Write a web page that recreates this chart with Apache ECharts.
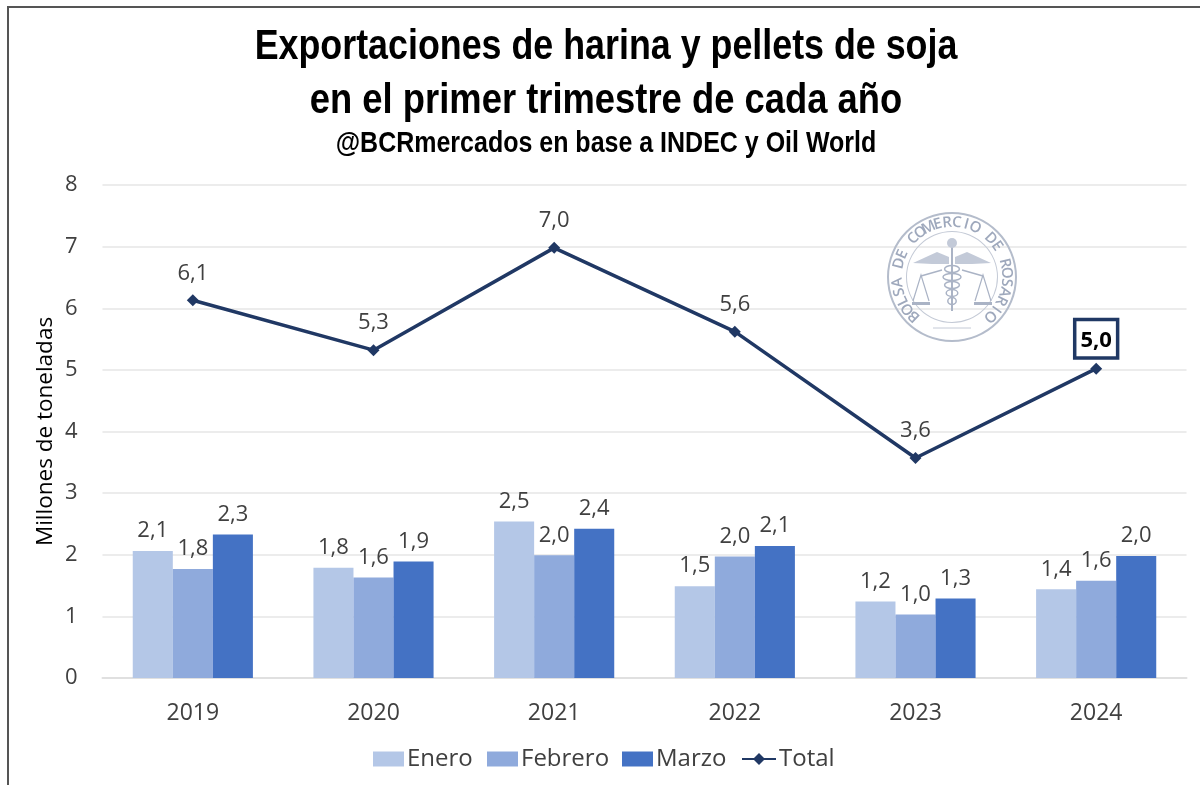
<!DOCTYPE html>
<html><head><meta charset="utf-8">
<style>html,body{margin:0;padding:0;background:#fff}#c{width:1200px;height:785px}</style>
<script src="https://cdn.jsdelivr.net/npm/echarts@6/dist/echarts.min.js"></script>
</head><body><div id="c"></div>
<script>
const categories=['2019','2020','2021','2022','2023','2024'];
const enero=[2.06,1.79,2.54,1.49,1.24,1.44];
const febrero=[1.77,1.63,1.99,1.97,1.03,1.58];
const marzo=[2.33,1.89,2.42,2.14,1.29,1.98];
const total=[6.13,5.32,6.98,5.62,3.57,5.02];
const sealText='BOLSA DE COMERCIO DE ROSARIO';
const titleLines=['Exportaciones de harina y pellets de soja','en el primer trimestre de cada año','@BCRmercados en base a INDEC y Oil World'];
const font='"Open Sans","Noto Sans",sans-serif';
const titleFont='"Liberation Sans",sans-serif';
const fmt=p=>p.value.toFixed(1).replace('.',',');
const barLabel={show:true,position:'top',distance:9,formatter:fmt,color:'#404040',fontSize:22,fontFamily:font};
const chart=echarts.init(document.getElementById('c'));
const seal=[];
const cx=952,cy=277;
seal.push({type:'rect',shape:{x:7,y:6,width:2,height:779},style:{fill:'#555'},z:1});
seal.push({type:'rect',shape:{x:7,y:6,width:1193,height:2},style:{fill:'#555'},z:1});
[[titleLines[0],47.5,43,0.833],[titleLines[1],101.5,43,0.846],[titleLines[2],144,30,0.833]].forEach(([t,y,s,k])=>{
  seal.push({type:'text',x:606,y,scaleX:k,z:5,style:{text:t,fill:'#000',fontFamily:titleFont,fontWeight:'bold',fontSize:s,align:'center',verticalAlign:'middle'}});
});
seal.push({type:'ring',shape:{cx,cy,r:65,r0:63},style:{fill:'#b4bccb'},z:1});
seal.push({type:'ring',shape:{cx,cy,r:46,r0:45},style:{fill:'#c4cad6'},z:1});
[...sealText].forEach((ch,i)=>{
  const a=(-136+i*(272/(sealText.length-1)))*Math.PI/180;
  seal.push({type:'text',x:cx+54.5*Math.sin(a),y:cy-54.5*Math.cos(a),rotation:-a,z:1,
    style:{text:ch,fill:'#9ea8bc',fontSize:15,fontWeight:600,fontFamily:font,align:'center',verticalAlign:'middle'}});
});
const ink='#aab3c5';
seal.push({type:'polygon',shape:{points:[[cx-39,cy-14],[cx-15,cy-25],[cx-3,cy-20],[cx-3,cy-13],[cx-20,cy-13]]},style:{fill:'#c3cad8'},z:1});
seal.push({type:'polygon',shape:{points:[[cx+39,cy-14],[cx+15,cy-25],[cx+3,cy-20],[cx+3,cy-13],[cx+20,cy-13]]},style:{fill:'#c3cad8'},z:1});
seal.push({type:'line',shape:{x1:cx,y1:cy-34,x2:cx,y2:cy+34},style:{stroke:ink,lineWidth:2},z:1});
seal.push({type:'circle',shape:{cx,cy:cy-34,r:5},style:{fill:'#c3cad8'},z:1});
[-8,0,8,16,24].forEach(d=>seal.push({type:'ellipse',shape:{cx,cy:cy+d,rx:9-Math.abs(d)/5,ry:3.5},style:{fill:'none',stroke:ink,lineWidth:1.5},z:1}));
[-1,1].forEach(s=>{
  seal.push({type:'line',shape:{x1:cx+s*10,y1:cy-7,x2:cx+s*31,y2:cy-1},style:{stroke:ink,lineWidth:1.5},z:1});
  seal.push({type:'polyline',shape:{points:[[cx+s*23,cy+24],[cx+s*31,cy-2],[cx+s*39,cy+24]]},style:{fill:'none',stroke:ink,lineWidth:1.2},z:1});
  seal.push({type:'rect',shape:{x:cx+s*31-9,y:cy+25,width:18,height:3},style:{fill:ink},z:1});
});
seal.push({type:'line',shape:{x1:cx-19,y1:cy+51,x2:cx+19,y2:cy+51},style:{stroke:'#c4cad6',lineWidth:1},z:1});
const legendItem=(name,left,icon,width)=>({left,top:742,itemWidth:width,itemHeight:15,
  textStyle:{fontFamily:font,fontSize:24,color:'#404040',padding:[0,0,0,-2]},
  data:[icon?{name,icon}:{name}]});
chart.setOption({
  animation:false,backgroundColor:'#fff',
  legend:[legendItem('Enero',368,'rect',31),legendItem('Febrero',482,'rect',31),legendItem('Marzo',617,'rect',31),legendItem('Total',736,null,34)],
  grid:{left:102.5,right:13.5,top:185,bottom:107},
  xAxis:{type:'category',data:categories,axisTick:{show:false},
    axisLine:{lineStyle:{color:'#e0e0e0',width:2}},
    axisLabel:{color:'#404040',fontSize:23,fontFamily:font,margin:24}},
  yAxis:{type:'value',min:0,max:8,interval:1,name:'Millones de toneladas',nameLocation:'middle',nameGap:45,nameMoveOverlap:false,nameRotate:90,
    nameTextStyle:{color:'#000',fontSize:22.5,fontFamily:font},
    axisLabel:{color:'#404040',fontSize:22,fontFamily:font,margin:25},
    axisLine:{show:false},axisTick:{show:false},splitLine:{lineStyle:{color:'#ececec',width:2}}},
  series:[
    {name:'Enero',type:'bar',data:enero,barGap:'0%',barCategoryGap:'33.5%',itemStyle:{color:'#b4c7e7'},label:barLabel,z:3},
    {name:'Febrero',type:'bar',data:febrero,itemStyle:{color:'#8faadc'},label:barLabel,z:3},
    {name:'Marzo',type:'bar',data:marzo,itemStyle:{color:'#4472c4'},label:barLabel,z:3},
    {name:'Total',type:'line',data:total,symbol:'diamond',symbolSize:12,lineStyle:{color:'#203864',width:3.5},itemStyle:{color:'#203864'},z:4,
      label:{show:true,position:'top',distance:10,formatter:fmt,color:'#404040',fontSize:22,fontFamily:font},
      emphasis:{disabled:true},
      markPoint:{symbol:'rect',symbolSize:1,silent:true,itemStyle:{color:'transparent'},
        data:[{coord:['2024',total[5]],value:total[5],
          label:{show:true,position:'top',distance:12,formatter:fmt,color:'#000',fontWeight:'bold',fontSize:22,fontFamily:font,backgroundColor:'#fff',borderColor:'#203864',borderWidth:3.5,padding:[9,4,4,4]}}]}}
  ],
  graphic:seal
});
</script></body></html>
